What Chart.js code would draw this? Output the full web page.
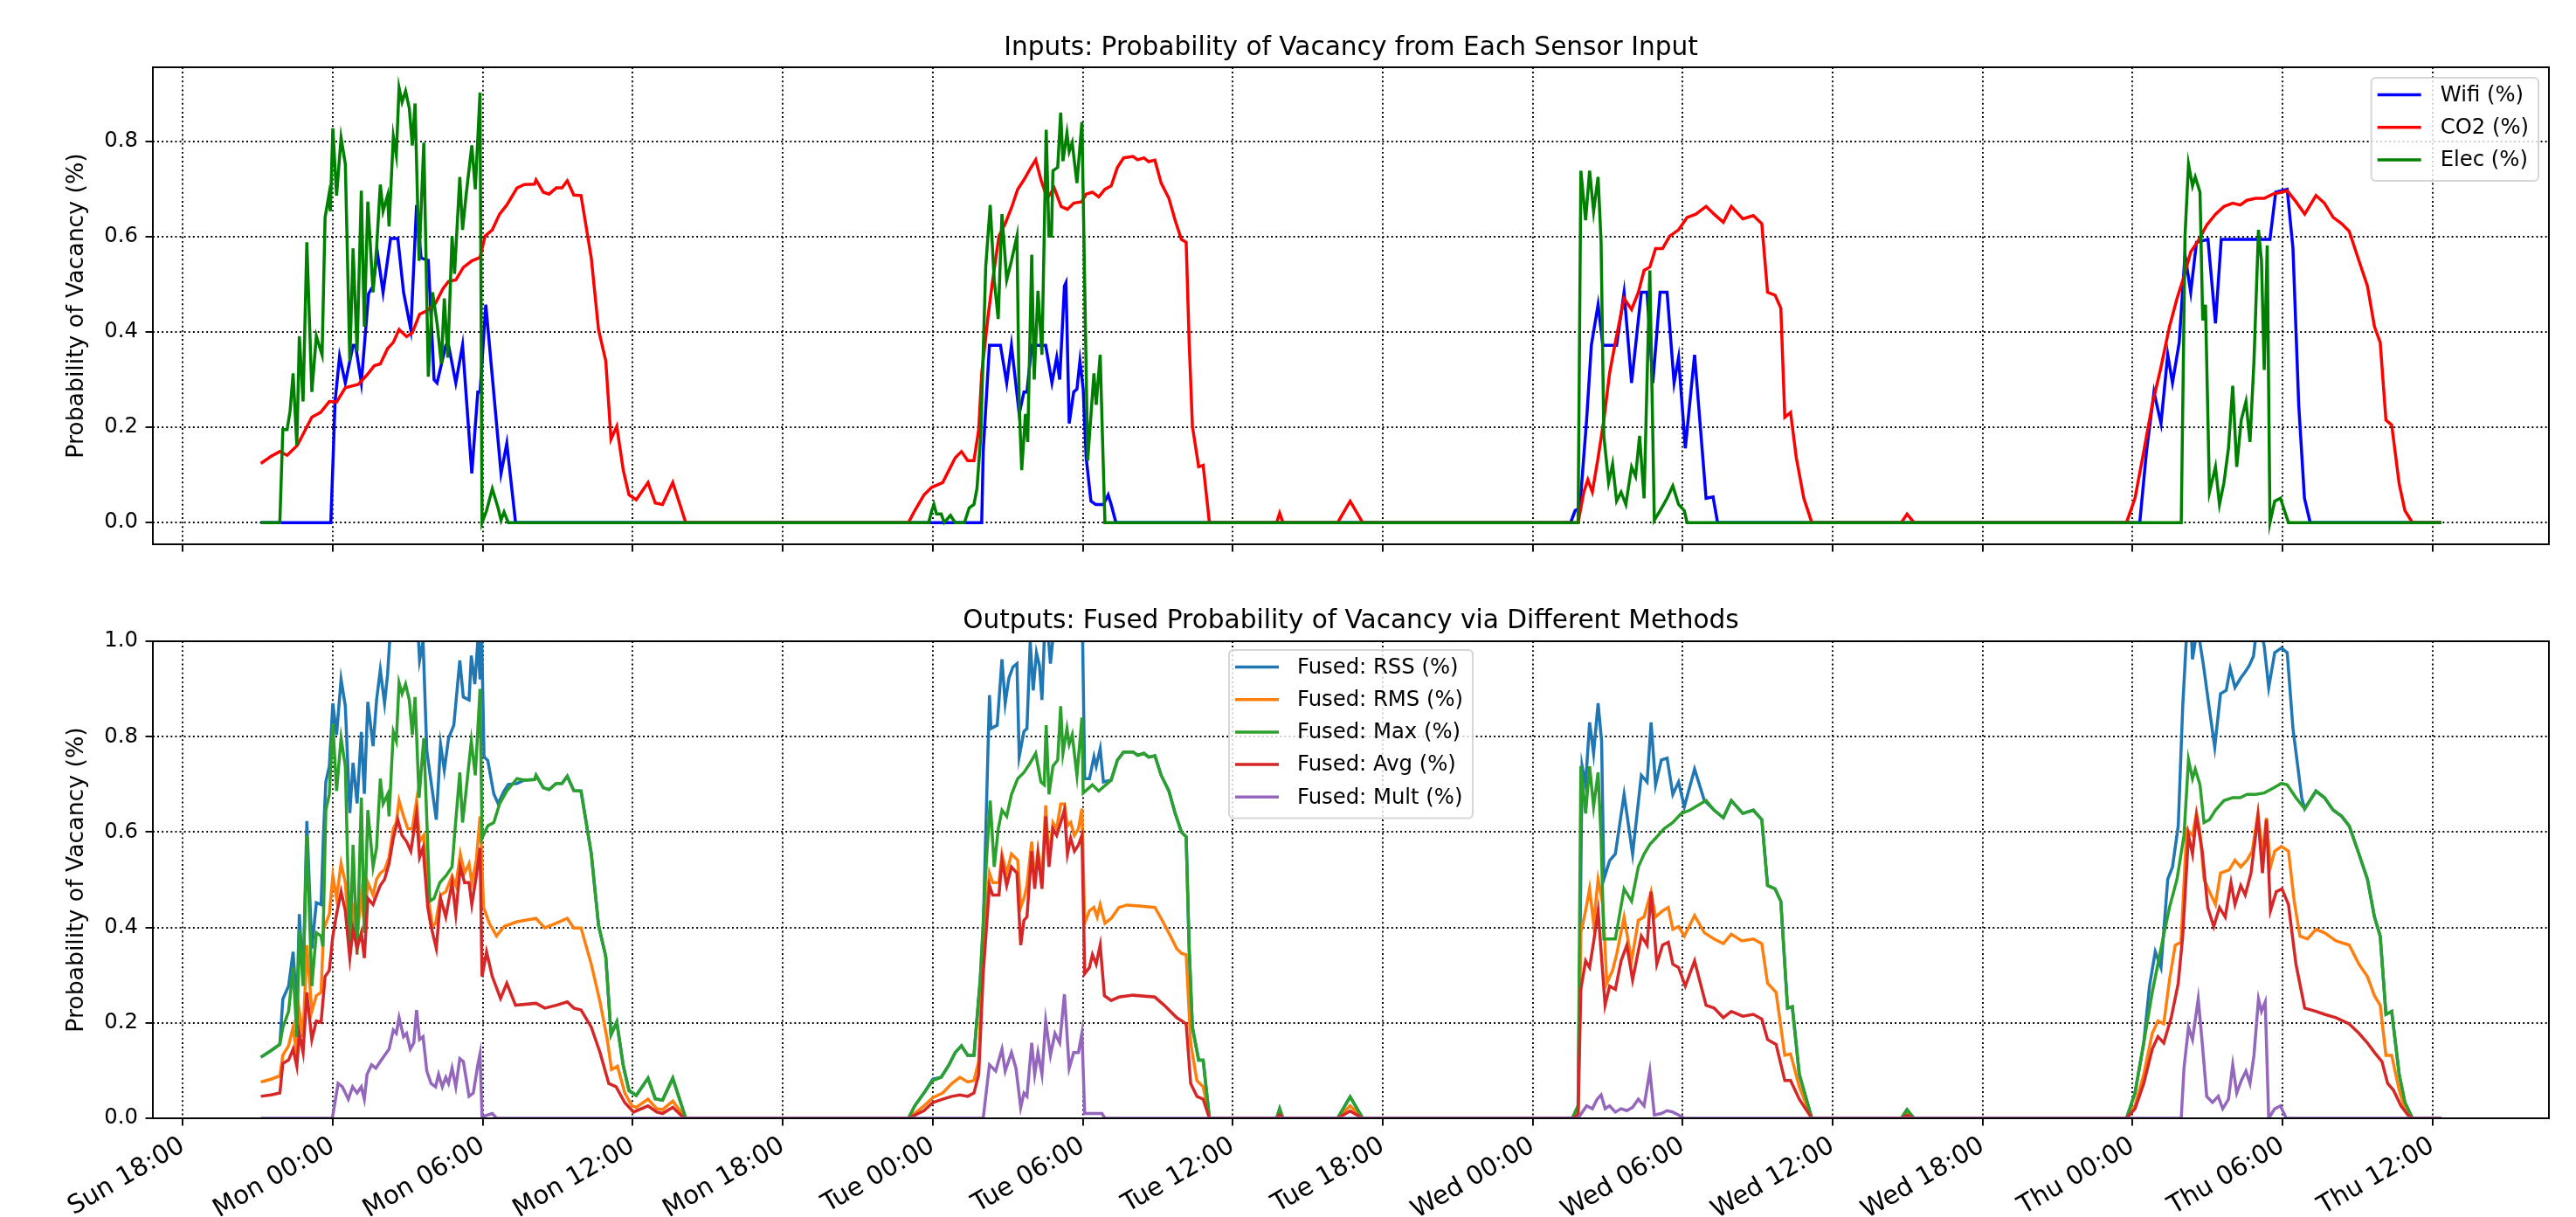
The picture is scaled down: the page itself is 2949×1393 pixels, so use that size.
<!DOCTYPE html>
<html><head><meta charset="utf-8">
<script src="https://cdn.jsdelivr.net/npm/chart.js@4.4.1/dist/chart.umd.min.js"></script>
<style>
html,body{margin:0;padding:0;background:#fff;}
#wrap{position:relative;width:2949px;height:1393px;background:#fff;overflow:hidden;}
.box{position:absolute;left:0;width:2949px;}
#c1box{top:0;height:680px;}
#c2box{top:640px;height:753px;}
</style></head><body>
<div id="wrap">
<div class="box" id="c1box"><canvas id="c1"></canvas></div>
<div class="box" id="c2box"><canvas id="c2"></canvas></div>
</div>
<script>
// ---- axis ticks (hours since Sun 00:00) ----
const tickHours = [18,24,30,36,42,48,54,60,66,72,78,84,90,96,102,108];
const tickLabels = ['Sun 18:00','Mon 00:00','Mon 06:00','Mon 12:00','Mon 18:00','Tue 00:00','Tue 06:00','Tue 12:00','Tue 18:00','Wed 00:00','Wed 06:00','Wed 12:00','Wed 18:00','Thu 00:00','Thu 06:00','Thu 12:00'];
const yTicksTop = [0,0.2,0.4,0.6,0.8];
const yTicksBottom = [0,0.2,0.4,0.6,0.8,1.0];

// ---- inputs: [hour, probability] ----
const wifi = [[21.12,0],[23.92,0],[24.09,0.254],[24.27,0.349],[24.5,0.293],[24.81,0.372],[24.91,0.372],[25.14,0.293],[25.43,0.48],[25.61,0.496],[25.78,0.568],[26.01,0.483],[26.31,0.596],[26.6,0.596],[26.83,0.483],[27.12,0.405],[27.35,0.666],[27.53,0.555],[27.82,0.55],[28.05,0.3],[28.17,0.293],[28.52,0.372],[28.63,0.372],[28.92,0.293],[29.19,0.372],[29.56,0.103],[29.8,0.274],[29.89,0.274],[30.12,0.457],[30.73,0.103],[30.96,0.166],[31.31,0],
[49.96,0],[50.02,0.149],[50.27,0.372],[50.71,0.372],[50.96,0.293],[51.15,0.372],[51.46,0.228],[51.65,0.274],[51.77,0.274],[51.96,0.372],[52.52,0.372],[52.77,0.293],[52.96,0.346],[53.08,0.3],[53.27,0.496],[53.33,0.503],[53.46,0.208],[53.64,0.274],[53.77,0.28],[53.89,0.339],[54.02,0.28],[54.14,0.136],[54.33,0.045],[54.52,0.038],[54.83,0.038],[55.02,0.058],[55.14,0.038],[55.33,0],
[73.52,0],[73.7,0.025],[73.89,0.031],[74.16,0.215],[74.35,0.372],[74.62,0.457],[74.81,0.372],[75.36,0.372],[75.66,0.483],[75.96,0.293],[76.35,0.483],[76.58,0.483],[76.81,0.293],[77.1,0.483],[77.38,0.483],[77.66,0.293],[77.84,0.346],[78.11,0.156],[78.48,0.352],[78.94,0.051],[79.22,0.054],[79.4,0],
[96.29,0],[96.56,0.149],[96.86,0.274],[97.14,0.208],[97.41,0.352],[97.6,0.293],[97.87,0.378],[98.1,0.562],[98.33,0.483],[98.56,0.588],[99.02,0.594],[99.32,0.418],[99.55,0.594],[101.5,0.594],[101.73,0.693],[102.19,0.699],[102.42,0.575],[102.65,0.247],[102.88,0.051],[103.11,0],[108.35,0]];

const co2 = [[21.12,0.124],[21.53,0.139],[21.88,0.149],[22.17,0.141],[22.58,0.162],[23.16,0.221],[23.51,0.231],[23.86,0.254],[24.15,0.253],[24.5,0.283],[25.02,0.29],[25.37,0.31],[25.66,0.329],[25.9,0.333],[26.19,0.365],[26.42,0.378],[26.65,0.405],[26.95,0.39],[27.18,0.398],[27.47,0.437],[27.76,0.444],[28.11,0.46],[28.4,0.49],[28.63,0.506],[28.92,0.509],[29.22,0.535],[29.56,0.549],[29.89,0.556],[30.09,0.601],[30.38,0.614],[30.67,0.647],[30.96,0.666],[31.37,0.702],[31.66,0.709],[32.07,0.71],[32.13,0.719],[32.42,0.693],[32.65,0.689],[32.94,0.702],[33.17,0.702],[33.38,0.717],[33.64,0.687],[33.93,0.686],[34.34,0.555],[34.63,0.405],[34.92,0.339],[35.13,0.175],[35.36,0.202],[35.62,0.11],[35.85,0.058],[36.14,0.048],[36.61,0.084],[36.9,0.041],[37.19,0.038],[37.6,0.084],[38.12,0],
[47.03,0],[47.28,0.025],[47.65,0.058],[47.96,0.074],[48.4,0.084],[48.65,0.11],[48.9,0.136],[49.15,0.149],[49.4,0.13],[49.65,0.13],[49.84,0.195],[49.96,0.313],[50.21,0.431],[50.4,0.509],[50.65,0.601],[50.9,0.627],[51.15,0.66],[51.4,0.699],[51.65,0.719],[51.9,0.742],[52.12,0.761],[52.33,0.719],[52.58,0.68],[52.86,0.702],[53.14,0.663],[53.39,0.657],[53.64,0.67],[53.96,0.673],[54.14,0.689],[54.39,0.693],[54.64,0.683],[54.89,0.699],[55.14,0.706],[55.39,0.745],[55.64,0.765],[56.01,0.768],[56.2,0.761],[56.45,0.765],[56.64,0.757],[56.89,0.76],[57.14,0.712],[57.45,0.68],[57.7,0.634],[57.95,0.594],[58.14,0.588],[58.26,0.378],[58.39,0.202],[58.64,0.117],[58.82,0.12],[59.07,0],
[61.76,0],[61.88,0.02],[62.01,0],[64.2,0],[64.7,0.045],[65.2,0],
[73.82,0],[74.05,0.064],[74.21,0.09],[74.39,0.064],[74.62,0.136],[74.85,0.215],[75.08,0.313],[75.31,0.378],[75.66,0.47],[75.96,0.447],[76.23,0.483],[76.46,0.529],[76.69,0.536],[76.92,0.575],[77.2,0.575],[77.49,0.601],[77.84,0.614],[78.18,0.64],[78.53,0.647],[78.94,0.663],[79.26,0.647],[79.63,0.63],[79.95,0.663],[80.41,0.637],[80.83,0.644],[81.17,0.627],[81.4,0.483],[81.7,0.477],[81.93,0.45],[82.09,0.221],[82.32,0.231],[82.55,0.136],[82.85,0.051],[83.17,0],
[86.75,0],[86.98,0.018],[87.26,0],
[95.76,0],[96.1,0.051],[96.45,0.149],[96.79,0.247],[97.14,0.326],[97.48,0.411],[97.78,0.47],[98.06,0.516],[98.33,0.568],[98.63,0.591],[98.97,0.624],[99.32,0.647],[99.66,0.663],[100.01,0.67],[100.31,0.666],[100.58,0.676],[100.93,0.68],[101.27,0.68],[101.62,0.689],[101.96,0.693],[102.19,0.696],[102.54,0.673],[102.89,0.647],[103.34,0.686],[103.68,0.67],[104.03,0.64],[104.37,0.627],[104.67,0.611],[105.06,0.549],[105.4,0.496],[105.68,0.411],[105.91,0.378],[106.14,0.215],[106.37,0.205],[106.67,0.081],[106.9,0.025],[107.2,0],[108.35,0]];

const elec = [[21.12,0],[21.88,0],[22.0,0.195],[22.17,0.195],[22.29,0.234],[22.41,0.313],[22.56,0.162],[22.66,0.391],[22.81,0.254],[22.96,0.588],[23.16,0.274],[23.34,0.391],[23.57,0.352],[23.69,0.64],[23.84,0.686],[23.9,0.653],[24.0,0.827],[24.15,0.686],[24.33,0.807],[24.5,0.752],[24.68,0.339],[24.81,0.575],[24.97,0.359],[25.14,0.696],[25.26,0.411],[25.4,0.673],[25.61,0.483],[25.75,0.575],[25.9,0.709],[26.01,0.653],[26.19,0.686],[26.25,0.621],[26.42,0.81],[26.54,0.771],[26.65,0.912],[26.77,0.882],[26.91,0.905],[27.06,0.869],[27.18,0.791],[27.29,0.879],[27.45,0.549],[27.64,0.797],[27.82,0.306],[27.99,0.483],[28.17,0.418],[28.34,0.333],[28.46,0.47],[28.6,0.346],[28.77,0.601],[28.87,0.522],[29.08,0.725],[29.19,0.614],[29.33,0.686],[29.56,0.791],[29.7,0.699],[29.89,0.902],[29.97,0],[30.15,0.025],[30.38,0.071],[30.61,0.031],[30.73,0.005],[30.85,0.022],[31.02,0],
[47.84,0],[47.96,0.025],[48.05,0.038],[48.15,0.018],[48.34,0.018],[48.46,0],[48.71,0.015],[48.9,0],[49.27,0],[49.46,0.031],[49.65,0.038],[49.77,0.071],[49.92,0.18],[50.12,0.536],[50.3,0.666],[50.46,0.509],[50.62,0.427],[50.77,0.647],[50.96,0.509],[51.15,0.549],[51.37,0.601],[51.46,0.247],[51.56,0.11],[51.71,0.228],[51.8,0.169],[51.96,0.562],[52.06,0.3],[52.21,0.486],[52.37,0.352],[52.54,0.824],[52.65,0.601],[52.75,0.601],[52.81,0.738],[53.0,0.745],[53.12,0.86],[53.21,0.758],[53.37,0.817],[53.46,0.778],[53.58,0.797],[53.77,0.712],[53.97,0.84],[54.2,0.13],[54.45,0.313],[54.54,0.247],[54.7,0.352],[54.79,0.182],[54.89,0],
[73.82,0],[73.93,0.738],[74.12,0.634],[74.28,0.738],[74.44,0.653],[74.62,0.725],[74.74,0.588],[74.85,0.182],[75.04,0.084],[75.2,0.123],[75.36,0.045],[75.54,0.064],[75.73,0.038],[75.96,0.117],[76.12,0.097],[76.28,0.182],[76.46,0.051],[76.69,0.529],[76.87,0.005],[77.1,0.025],[77.38,0.051],[77.61,0.077],[77.84,0.038],[78.07,0.025],[78.18,0],
[97.95,0],[98.1,0.6],[98.24,0.752],[98.4,0.706],[98.51,0.725],[98.7,0.693],[98.81,0.424],[98.92,0.457],[99.08,0.064],[99.32,0.117],[99.48,0.038],[99.66,0.084],[99.84,0.156],[100.01,0.287],[100.17,0.117],[100.35,0.215],[100.54,0.254],[100.7,0.169],[100.86,0.339],[101.04,0.614],[101.16,0.549],[101.27,0.32],[101.39,0.581],[101.5,0],[101.69,0.045],[101.92,0.051],[102.08,0.025],[102.24,0],[108.35,0]];

// ---- fused outputs: [hour, probability] ----
const fusedRSS = [[21.12,0.128],[21.53,0.142],[21.88,0.155],[22.0,0.25],[22.23,0.277],[22.41,0.349],[22.56,0.23],[22.66,0.428],[22.81,0.29],[22.96,0.623],[23.16,0.356],[23.34,0.452],[23.53,0.448],[23.63,0.6],[23.72,0.705],[23.86,0.738],[24.0,0.87],[24.15,0.804],[24.33,0.92],[24.5,0.864],[24.68,0.64],[24.81,0.745],[24.97,0.66],[25.14,0.81],[25.26,0.68],[25.4,0.873],[25.61,0.78],[25.75,0.877],[25.9,0.94],[26.07,0.87],[26.19,0.93],[26.31,1.03],[26.6,1.1],[26.9,1.15],[27.2,1.1],[27.35,1.08],[27.47,0.96],[27.61,1.0],[27.76,0.77],[27.93,0.705],[28.14,0.626],[28.31,0.784],[28.46,0.73],[28.63,0.797],[28.84,0.824],[29.08,0.96],[29.22,0.883],[29.45,0.877],[29.54,0.97],[29.68,0.91],[29.8,1.0],[29.89,0.92],[29.94,1.05],[30.05,0.758],[30.2,0.75],[30.44,0.68],[30.61,0.66],[30.85,0.686],[31.02,0.7],[31.37,0.702],[31.66,0.709],[32.07,0.71],[32.13,0.719],[32.42,0.693],[32.65,0.689],[32.94,0.702],[33.17,0.702],[33.38,0.717],[33.64,0.687],[33.93,0.686],[34.34,0.555],[34.63,0.405],[34.92,0.339],[35.13,0.175],[35.36,0.202],[35.62,0.11],[35.85,0.058],[36.14,0.048],[36.61,0.084],[36.9,0.041],[37.19,0.038],[37.6,0.084],[38.12,0],
[47.03,0],[47.28,0.026],[47.65,0.053],[48.0,0.082],[48.34,0.086],[48.65,0.112],[48.9,0.138],[49.15,0.152],[49.4,0.132],[49.65,0.132],[49.9,0.29],[50.02,0.4],[50.27,0.887],[50.33,0.817],[50.58,0.824],[50.77,0.962],[50.9,0.87],[51.05,0.923],[51.21,0.946],[51.37,0.953],[51.46,0.758],[51.65,0.811],[51.77,0.817],[51.9,1.0],[52.02,0.897],[52.15,0.976],[52.27,0.949],[52.37,0.877],[52.52,1.08],[52.71,0.953],[52.89,1.05],[53.12,1.15],[53.4,1.1],[53.7,1.05],[53.97,1.1],[54.08,0.712],[54.27,0.712],[54.45,0.758],[54.54,0.738],[54.7,0.775],[54.83,0.705],[55.14,0.709],[55.39,0.751],[55.64,0.768],[56.01,0.768],[56.2,0.761],[56.45,0.765],[56.64,0.757],[56.89,0.76],[57.14,0.719],[57.45,0.686],[57.7,0.639],[57.95,0.6],[58.14,0.59],[58.26,0.356],[58.39,0.191],[58.64,0.122],[58.82,0.122],[59.07,0],
[61.76,0],[61.88,0.02],[62.01,0],[64.2,0],[64.7,0.045],[65.2,0],
[73.59,0],[73.82,0.026],[73.98,0.738],[74.12,0.7],[74.28,0.83],[74.44,0.765],[74.62,0.87],[74.76,0.791],[74.85,0.501],[75.08,0.54],[75.31,0.554],[75.66,0.679],[76.0,0.554],[76.35,0.719],[76.58,0.705],[76.74,0.83],[76.92,0.699],[77.15,0.751],[77.38,0.755],[77.61,0.679],[77.84,0.705],[78.07,0.653],[78.48,0.732],[78.87,0.666],[79.26,0.646],[79.63,0.63],[79.95,0.666],[80.41,0.639],[80.83,0.646],[81.17,0.626],[81.4,0.488],[81.7,0.481],[81.93,0.455],[82.2,0.231],[82.39,0.234],[82.67,0.092],[83.17,0],
[86.75,0],[86.98,0.018],[87.26,0],
[95.76,0],[96.1,0.053],[96.45,0.158],[96.68,0.277],[96.91,0.349],[97.14,0.316],[97.41,0.501],[97.6,0.527],[97.83,0.613],[98.01,0.864],[98.17,1.02],[98.3,1.08],[98.4,0.962],[98.6,1.03],[98.84,0.949],[99.06,0.864],[99.29,0.778],[99.52,0.89],[99.75,0.897],[99.91,0.943],[100.1,0.903],[100.33,0.923],[100.51,0.936],[100.67,0.949],[100.84,0.969],[101.02,1.05],[101.27,0.99],[101.45,0.903],[101.69,0.976],[101.96,0.986],[102.19,0.976],[102.42,0.817],[102.77,0.672],[102.89,0.649],[103.34,0.686],[103.68,0.672],[104.03,0.646],[104.37,0.633],[104.67,0.613],[105.06,0.554],[105.4,0.501],[105.68,0.422],[105.91,0.382],[106.14,0.218],[106.37,0.224],[106.67,0.092],[106.9,0.033],[107.2,0],[108.35,0]];

const fusedRMS = [[21.12,0.076],[21.53,0.082],[21.88,0.089],[22.0,0.132],[22.23,0.152],[22.41,0.191],[22.56,0.132],[22.66,0.224],[22.81,0.171],[22.96,0.363],[23.16,0.224],[23.34,0.257],[23.53,0.264],[23.63,0.396],[23.86,0.428],[24.0,0.508],[24.15,0.461],[24.33,0.534],[24.5,0.494],[24.68,0.363],[24.81,0.435],[24.97,0.382],[25.14,0.468],[25.26,0.409],[25.4,0.494],[25.61,0.468],[25.75,0.501],[25.9,0.514],[26.07,0.521],[26.25,0.547],[26.42,0.607],[26.54,0.62],[26.65,0.666],[26.83,0.633],[27.0,0.607],[27.18,0.607],[27.35,0.666],[27.47,0.58],[27.64,0.593],[27.82,0.461],[27.99,0.402],[28.11,0.409],[28.31,0.468],[28.52,0.475],[28.77,0.508],[28.92,0.488],[29.1,0.554],[29.27,0.514],[29.45,0.534],[29.56,0.494],[29.74,0.541],[29.89,0.633],[29.94,0.567],[30.03,0.442],[30.26,0.409],[30.55,0.382],[30.85,0.402],[31.37,0.412],[32.13,0.419],[32.48,0.399],[32.94,0.409],[33.38,0.419],[33.64,0.399],[33.93,0.399],[34.34,0.323],[34.69,0.244],[34.98,0.165],[35.15,0.102],[35.39,0.109],[35.68,0.053],[35.97,0.026],[36.14,0.023],[36.61,0.04],[36.96,0.02],[37.19,0.018],[37.6,0.036],[38.12,0],
[47.03,0],[47.65,0.026],[48.0,0.043],[48.4,0.053],[48.77,0.073],[49.09,0.086],[49.4,0.076],[49.65,0.079],[49.84,0.119],[50.02,0.356],[50.27,0.514],[50.4,0.494],[50.65,0.494],[50.77,0.554],[50.96,0.514],[51.15,0.554],[51.4,0.541],[51.52,0.442],[51.65,0.461],[51.77,0.488],[51.96,0.58],[52.08,0.501],[52.21,0.56],[52.37,0.501],[52.52,0.656],[52.65,0.541],[52.81,0.62],[52.96,0.607],[53.12,0.659],[53.27,0.659],[53.39,0.613],[53.52,0.62],[53.67,0.593],[53.83,0.607],[53.97,0.649],[54.08,0.409],[54.27,0.435],[54.45,0.442],[54.58,0.422],[54.7,0.448],[54.89,0.409],[55.14,0.419],[55.45,0.442],[55.77,0.447],[56.26,0.445],[56.89,0.442],[57.14,0.419],[57.51,0.382],[57.76,0.356],[57.95,0.346],[58.14,0.343],[58.32,0.158],[58.57,0.079],[58.82,0.066],[59.07,0],
[61.76,0],[61.88,0.012],[62.01,0],[64.2,0],[64.7,0.026],[65.2,0],
[73.59,0],[73.82,0.013],[73.93,0.389],[74.12,0.435],[74.28,0.481],[74.44,0.409],[74.62,0.501],[74.81,0.448],[74.97,0.283],[75.2,0.31],[75.36,0.343],[75.66,0.422],[75.96,0.33],[76.23,0.415],[76.46,0.422],[76.74,0.475],[76.92,0.422],[77.2,0.435],[77.43,0.442],[77.61,0.396],[77.84,0.402],[78.07,0.382],[78.48,0.425],[78.87,0.389],[79.26,0.376],[79.63,0.366],[79.95,0.386],[80.37,0.372],[80.83,0.376],[81.17,0.366],[81.4,0.283],[81.74,0.264],[82.09,0.132],[82.32,0.135],[82.67,0.066],[83.17,0],
[86.75,0],[86.98,0.01],[87.26,0],
[95.76,0],[96.1,0.026],[96.45,0.092],[96.79,0.178],[97.02,0.204],[97.25,0.198],[97.48,0.29],[97.71,0.363],[97.94,0.369],[98.17,0.606],[98.4,0.593],[98.56,0.64],[98.7,0.6],[98.86,0.501],[99.08,0.475],[99.32,0.448],[99.52,0.514],[99.87,0.521],[100.1,0.541],[100.33,0.527],[100.58,0.541],[100.79,0.56],[101.02,0.64],[101.2,0.554],[101.36,0.63],[101.52,0.527],[101.69,0.56],[101.96,0.57],[102.24,0.56],[102.47,0.455],[102.7,0.382],[103.0,0.376],[103.34,0.396],[103.68,0.389],[104.14,0.372],[104.67,0.363],[105.06,0.323],[105.4,0.297],[105.68,0.257],[105.91,0.237],[106.14,0.132],[106.37,0.132],[106.67,0.059],[106.9,0.02],[107.2,0],[108.35,0]];

const fusedMax = [[21.12,0.128],[21.53,0.142],[21.88,0.155],[22.0,0.19],[22.23,0.224],[22.41,0.316],[22.56,0.17],[22.66,0.395],[22.81,0.277],[22.96,0.593],[23.16,0.277],[23.34,0.389],[23.53,0.382],[23.6,0.36],[23.72,0.646],[23.86,0.679],[24.0,0.827],[24.15,0.686],[24.33,0.797],[24.5,0.738],[24.68,0.35],[24.81,0.573],[24.97,0.343],[25.14,0.672],[25.26,0.389],[25.4,0.646],[25.61,0.527],[25.75,0.567],[25.9,0.712],[26.01,0.659],[26.19,0.679],[26.25,0.633],[26.42,0.81],[26.54,0.791],[26.65,0.913],[26.77,0.89],[26.91,0.91],[27.06,0.877],[27.18,0.804],[27.29,0.883],[27.45,0.672],[27.64,0.797],[27.88,0.455],[28.05,0.461],[28.28,0.494],[28.52,0.508],[28.77,0.527],[28.87,0.593],[29.08,0.725],[29.19,0.62],[29.33,0.686],[29.54,0.791],[29.7,0.719],[29.89,0.9],[29.97,0.587],[30.2,0.613],[30.44,0.62],[30.67,0.659],[30.96,0.686],[31.37,0.712],[31.66,0.709],[32.07,0.71],[32.13,0.719],[32.42,0.693],[32.65,0.689],[32.94,0.702],[33.17,0.702],[33.38,0.717],[33.64,0.687],[33.93,0.686],[34.34,0.555],[34.63,0.405],[34.92,0.339],[35.13,0.175],[35.36,0.202],[35.62,0.11],[35.85,0.058],[36.14,0.048],[36.61,0.084],[36.9,0.041],[37.19,0.038],[37.6,0.084],[38.12,0],
[47.03,0],[47.28,0.026],[47.65,0.053],[48.0,0.079],[48.34,0.086],[48.65,0.112],[48.9,0.138],[49.15,0.152],[49.4,0.132],[49.65,0.132],[49.9,0.29],[50.15,0.541],[50.3,0.666],[50.46,0.527],[50.62,0.606],[50.77,0.646],[50.96,0.633],[51.15,0.679],[51.4,0.712],[51.65,0.725],[51.9,0.745],[52.12,0.765],[52.33,0.705],[52.46,0.699],[52.54,0.824],[52.65,0.679],[52.81,0.738],[53.0,0.751],[53.12,0.864],[53.21,0.765],[53.37,0.817],[53.46,0.784],[53.58,0.804],[53.77,0.719],[53.97,0.84],[54.02,0.682],[54.39,0.699],[54.64,0.686],[55.14,0.709],[55.39,0.751],[55.64,0.768],[56.01,0.768],[56.2,0.761],[56.45,0.765],[56.64,0.757],[56.89,0.76],[57.14,0.719],[57.45,0.686],[57.7,0.639],[57.95,0.6],[58.14,0.59],[58.26,0.356],[58.39,0.191],[58.64,0.122],[58.82,0.122],[59.07,0],
[61.76,0],[61.88,0.02],[62.01,0],[64.2,0],[64.7,0.045],[65.2,0],
[73.59,0],[73.82,0.026],[73.93,0.738],[74.12,0.639],[74.28,0.738],[74.44,0.653],[74.62,0.725],[74.74,0.587],[74.85,0.376],[75.31,0.376],[75.66,0.481],[75.96,0.455],[76.23,0.527],[76.46,0.554],[76.69,0.574],[76.92,0.587],[77.26,0.607],[77.61,0.62],[77.95,0.639],[78.3,0.646],[78.94,0.666],[79.26,0.646],[79.63,0.63],[79.95,0.666],[80.41,0.639],[80.83,0.646],[81.17,0.626],[81.4,0.488],[81.7,0.481],[81.93,0.455],[82.2,0.231],[82.39,0.234],[82.67,0.092],[83.17,0],
[86.75,0],[86.98,0.018],[87.26,0],
[95.76,0],[96.1,0.053],[96.45,0.158],[96.79,0.264],[97.14,0.356],[97.48,0.442],[97.78,0.501],[98.06,0.593],[98.24,0.752],[98.4,0.712],[98.51,0.732],[98.7,0.699],[98.86,0.62],[99.08,0.626],[99.32,0.646],[99.66,0.666],[100.01,0.672],[100.31,0.672],[100.58,0.679],[100.93,0.679],[101.27,0.682],[101.62,0.692],[101.96,0.702],[102.19,0.699],[102.54,0.672],[102.89,0.649],[103.34,0.686],[103.68,0.672],[104.03,0.646],[104.37,0.633],[104.67,0.613],[105.06,0.554],[105.4,0.501],[105.68,0.422],[105.91,0.382],[106.14,0.218],[106.37,0.224],[106.67,0.092],[106.9,0.033],[107.2,0],[108.35,0]];

const fusedAvg = [[21.12,0.046],[21.53,0.049],[21.88,0.053],[22.0,0.115],[22.23,0.122],[22.41,0.145],[22.56,0.109],[22.66,0.178],[22.81,0.138],[22.96,0.264],[23.16,0.165],[23.34,0.204],[23.53,0.201],[23.69,0.297],[23.86,0.31],[24.0,0.382],[24.15,0.428],[24.33,0.475],[24.5,0.435],[24.68,0.336],[24.81,0.396],[24.97,0.356],[25.14,0.389],[25.26,0.336],[25.4,0.461],[25.61,0.448],[25.75,0.468],[25.9,0.488],[26.07,0.501],[26.25,0.534],[26.42,0.587],[26.6,0.626],[26.77,0.593],[26.95,0.58],[27.12,0.56],[27.35,0.639],[27.47,0.547],[27.61,0.567],[27.8,0.442],[27.93,0.402],[28.14,0.356],[28.31,0.461],[28.52,0.422],[28.77,0.494],[28.92,0.428],[29.1,0.527],[29.27,0.494],[29.45,0.494],[29.56,0.448],[29.74,0.508],[29.89,0.567],[29.97,0.297],[30.15,0.349],[30.38,0.297],[30.71,0.251],[30.96,0.283],[31.31,0.237],[32.13,0.241],[32.48,0.231],[32.94,0.237],[33.38,0.244],[33.64,0.231],[33.93,0.227],[34.34,0.191],[34.69,0.138],[35.04,0.073],[35.33,0.066],[35.68,0.033],[36.03,0.013],[36.61,0.026],[36.96,0.013],[37.19,0.01],[37.6,0.023],[38.06,0],
[47.03,0],[47.65,0.016],[48.0,0.033],[48.4,0.04],[48.77,0.046],[49.09,0.049],[49.4,0.046],[49.65,0.053],[49.84,0.092],[50.02,0.303],[50.27,0.488],[50.4,0.468],[50.65,0.468],[50.77,0.541],[50.96,0.488],[51.15,0.527],[51.37,0.514],[51.52,0.363],[51.65,0.415],[51.77,0.422],[51.96,0.56],[52.08,0.481],[52.21,0.554],[52.37,0.481],[52.52,0.633],[52.65,0.527],[52.81,0.607],[52.96,0.593],[53.12,0.62],[53.27,0.646],[53.39,0.554],[53.52,0.587],[53.67,0.56],[53.83,0.573],[53.97,0.593],[54.08,0.303],[54.27,0.316],[54.39,0.343],[54.54,0.323],[54.7,0.363],[54.87,0.257],[55.14,0.247],[55.45,0.254],[56.01,0.258],[56.89,0.254],[57.26,0.237],[57.76,0.211],[58.14,0.198],[58.32,0.073],[58.57,0.046],[58.82,0.04],[59.07,0],
[61.76,0],[61.88,0.007],[62.01,0],[64.2,0],[64.7,0.015],[65.2,0],
[73.59,0],[73.82,0.007],[73.93,0.27],[74.12,0.33],[74.28,0.316],[74.44,0.369],[74.62,0.435],[74.76,0.336],[74.9,0.237],[75.08,0.277],[75.31,0.27],[75.54,0.33],[75.77,0.363],[76.0,0.29],[76.35,0.382],[76.58,0.363],[76.74,0.475],[76.97,0.323],[77.2,0.363],[77.43,0.369],[77.61,0.323],[77.84,0.316],[78.11,0.277],[78.48,0.33],[78.94,0.237],[79.26,0.231],[79.63,0.211],[79.95,0.224],[80.41,0.214],[80.83,0.218],[81.17,0.208],[81.4,0.165],[81.74,0.155],[82.09,0.079],[82.32,0.079],[82.67,0.04],[83.17,0],
[86.75,0],[86.98,0.006],[87.26,0],
[95.76,0],[96.1,0.02],[96.45,0.073],[96.79,0.145],[97.02,0.171],[97.25,0.158],[97.55,0.211],[97.83,0.283],[98.01,0.382],[98.24,0.593],[98.4,0.554],[98.56,0.633],[98.79,0.56],[99.01,0.442],[99.25,0.402],[99.48,0.442],[99.71,0.422],[99.94,0.494],[100.1,0.448],[100.33,0.488],[100.51,0.468],[100.74,0.514],[101.02,0.633],[101.2,0.514],[101.36,0.626],[101.52,0.435],[101.75,0.475],[101.98,0.481],[102.24,0.448],[102.54,0.323],[102.89,0.231],[103.34,0.224],[103.68,0.218],[104.14,0.211],[104.67,0.198],[105.06,0.178],[105.4,0.158],[105.68,0.138],[105.98,0.119],[106.21,0.073],[106.44,0.059],[106.74,0.026],[107.02,0.007],[107.2,0],[108.35,0]];

const fusedMult = [[21.12,0],[23.98,0],[24.21,0.073],[24.38,0.066],[24.62,0.04],[24.79,0.066],[24.97,0.053],[25.14,0.066],[25.26,0.04],[25.37,0.092],[25.55,0.112],[25.72,0.105],[25.9,0.119],[26.07,0.132],[26.25,0.145],[26.42,0.185],[26.54,0.178],[26.65,0.211],[26.83,0.171],[26.95,0.178],[27.1,0.145],[27.24,0.158],[27.35,0.227],[27.47,0.165],[27.61,0.171],[27.76,0.099],[27.93,0.073],[28.11,0.066],[28.23,0.092],[28.38,0.066],[28.52,0.086],[28.63,0.073],[28.77,0.105],[28.92,0.066],[29.08,0.125],[29.22,0.119],[29.45,0.046],[29.62,0.053],[29.8,0.112],[29.89,0.135],[29.97,0.003],[30.2,0.007],[30.38,0.01],[30.55,0],
[50.02,0],[50.27,0.112],[50.52,0.099],[50.77,0.145],[50.9,0.099],[51.15,0.138],[51.33,0.105],[51.52,0.023],[51.65,0.053],[51.77,0.046],[51.96,0.158],[52.08,0.092],[52.21,0.138],[52.37,0.092],[52.52,0.204],[52.71,0.132],[52.89,0.178],[53.08,0.158],[53.27,0.26],[53.46,0.105],[53.64,0.138],[53.83,0.138],[53.97,0.178],[54.08,0.01],[54.77,0.01],[54.89,0],
[73.82,0],[74.16,0.026],[74.39,0.02],[74.58,0.04],[74.74,0.049],[74.9,0.02],[75.08,0.026],[75.31,0.013],[75.54,0.02],[75.77,0.016],[76.0,0.023],[76.23,0.04],[76.46,0.026],[76.69,0.099],[76.87,0.007],[77.15,0.01],[77.38,0.016],[77.61,0.013],[77.84,0.007],[78.07,0],
[97.95,0],[98.06,0.105],[98.24,0.191],[98.4,0.165],[98.63,0.25],[98.79,0.158],[98.97,0.046],[99.2,0.033],[99.43,0.046],[99.61,0.02],[99.84,0.04],[100.01,0.112],[100.17,0.053],[100.35,0.079],[100.54,0.099],[100.7,0.073],[100.86,0.132],[101.04,0.25],[101.16,0.224],[101.31,0.244],[101.45,0],[101.69,0.02],[101.92,0.026],[102.15,0],[108.35,0]];

// ---- rendering ----
const FONT = 'DejaVu Sans';
Chart.defaults.font.family = FONT;
Chart.defaults.color = '#000';
const X_MIN = 16.80, X_MAX = 112.66;
const GRID_DASH = [1.9, 3.2];
const toXY = a => a.map(p => ({x: p[0], y: p[1]}));

const framePlugin = {
  id: 'frame',
  afterDatasetsDraw(chart) {
    const {ctx, chartArea: a} = chart;
    ctx.save();
    ctx.strokeStyle = '#000'; ctx.lineWidth = 1.94; ctx.setLineDash([]);
    ctx.strokeRect(a.left, a.top, a.right - a.left, a.bottom - a.top);
    ctx.restore();
  }
};

const mplLegend = {
  id: 'mplLegend',
  afterDraw(chart, args, o) {
    if (!o || !o.show) return;
    const ctx = chart.ctx, ca = chart.chartArea, ds = chart.data.datasets;
    ctx.save();
    ctx.font = o.fontSize + 'px "' + FONT + '"';
    let maxW = 0;
    ds.forEach(d => { maxW = Math.max(maxW, ctx.measureText(d.label).width); });
    const w = o.textX + maxW + o.padRight;
    const h = o.rowH * ds.length + o.padV;
    const left = (o.right != null) ? ca.right - o.right - w : o.left;
    const top = ca.top + o.top;
    const r = o.radius;
    ctx.beginPath();
    ctx.moveTo(left + r, top);
    ctx.arcTo(left + w, top, left + w, top + h, r);
    ctx.arcTo(left + w, top + h, left, top + h, r);
    ctx.arcTo(left, top + h, left, top, r);
    ctx.arcTo(left, top, left + w, top, r);
    ctx.closePath();
    ctx.fillStyle = 'rgba(255,255,255,0.8)'; ctx.fill();
    ctx.lineWidth = 2; ctx.strokeStyle = 'rgba(204,204,204,0.8)'; ctx.stroke();
    ds.forEach((d, i) => {
      const cy = top + o.firstRow + i * o.rowH;
      ctx.beginPath(); ctx.moveTo(left + o.handleX0, cy); ctx.lineTo(left + o.handleX1, cy);
      ctx.strokeStyle = d.borderColor; ctx.lineWidth = d.borderWidth; ctx.lineCap = 'butt'; ctx.stroke();
      ctx.fillStyle = '#000'; ctx.textBaseline = 'middle'; ctx.textAlign = 'left';
      ctx.fillText(d.label, left + o.textX, cy + 1);
    });
    ctx.restore();
  }
};

function series(label, arr, color, i, n) {
  return {label, data: toXY(arr), borderColor: color, backgroundColor: color, borderWidth: 3.5,
    pointRadius: 0, pointHoverRadius: 0, fill: false, tension: 0, clip: 0, order: n - i};
}

function makeChart(id, cfg) {
  const n = cfg.sets.length;
  return new Chart(document.getElementById(id), {
    type: 'line',
    data: {datasets: cfg.sets.map((s, i) => series(s[0], s[1], s[2], i, n))},
    options: {
      responsive: true, maintainAspectRatio: false, animation: false, devicePixelRatio: 1,
      layout: {padding: {left: 0, right: 31, top: 0, bottom: 0}},
      events: [],
      scales: {
        x: {
          type: 'linear', min: X_MIN, max: X_MAX,
          afterBuildTicks: s => { s.ticks = tickHours.map(v => ({value: v})); },
          ticks: {display: cfg.showX, autoSkip: false, maxRotation: 30, minRotation: 30, padding: cfg.xPad,
            font: {size: 29.2}, color: '#000', callback: (v, idx) => tickLabels[idx]},
          grid: {color: '#000', lineWidth: 1.9, drawTicks: true, tickLength: 8.5, tickColor: '#000', tickWidth: 1.9, tickBorderDash: []},
          border: {display: false, dash: GRID_DASH},
          afterFit: s => { s.height = cfg.xH; }
        },
        y: {
          min: cfg.yMin, max: cfg.yMax,
          afterBuildTicks: s => { s.ticks = cfg.yTicks.map(v => ({value: v})); },
          ticks: {font: {size: 24.3}, color: '#000', padding: 8.5, callback: v => Number(v).toFixed(1)},
          grid: {color: '#000', lineWidth: 1.9, drawTicks: true, tickLength: 8.5, tickColor: '#000', tickWidth: 1.9, tickBorderDash: []},
          border: {display: false, dash: GRID_DASH},
          title: {display: true, text: 'Probability of Vacancy (%)', font: {size: 26.7}, color: '#000', padding: {top: 72, bottom: 0}},
          afterFit: s => { s.width = 175; }
        }
      },
      plugins: {
        legend: {display: false},
        tooltip: {enabled: false},
        title: {display: true, text: cfg.title, fullSize: false, font: {size: 29.6, weight: 'normal'}, color: '#000',
          padding: {top: cfg.tPadTop, bottom: cfg.tPadBottom}},
        mplLegend: cfg.legend
      }
    },
    plugins: [framePlugin, mplLegend]
  });
}

makeChart('c1', {
  title: 'Inputs: Probability of Vacancy from Each Sensor Input',
  sets: [['Wifi (%)', wifi, '#0000ff'], ['CO2 (%)', co2, '#ff0000'], ['Elec (%)', elec, '#008000']],
  yMin: -0.0455, yMax: 0.955, yTicks: yTicksTop, showX: false, xPad: 8.5, xH: 57,
  tPadTop: 37.3, tPadBottom: 4.18,
  legend: {show: true, fontSize: 24.3, right: 12, top: 12, textX: 79, padRight: 11, rowH: 37.2, padV: 6.5, firstRow: 19.5, handleX0: 7, handleX1: 57, radius: 5}
});
makeChart('c2', {
  title: 'Outputs: Fused Probability of Vacancy via Different Methods',
  sets: [['Fused: RSS (%)', fusedRSS, '#1f77b4'], ['Fused: RMS (%)', fusedRMS, '#ff7f0e'], ['Fused: Max (%)', fusedMax, '#2ca02c'], ['Fused: Avg (%)', fusedAvg, '#d62728'], ['Fused: Mult (%)', fusedMult, '#9467bd']],
  yMin: 0, yMax: 1, yTicks: yTicksBottom, showX: true, xPad: 6, xH: 113,
  tPadTop: 53.5, tPadBottom: 4.98,
  legend: {show: true, fontSize: 24.3, left: 1407, top: 10, textX: 78, padRight: 11, rowH: 37.2, padV: 6.5, firstRow: 19.5, handleX0: 7, handleX1: 57, radius: 5}
});
</script>
</body></html>
